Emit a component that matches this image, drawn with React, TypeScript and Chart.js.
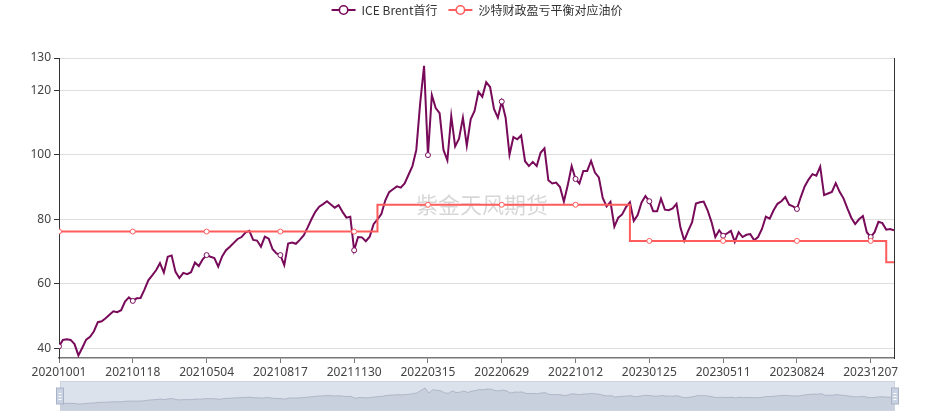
import React, { useEffect, useRef } from 'react';
import { Chart, registerables } from 'chart.js';

Chart.register(...registerables);

// ---------- data ----------
const tickDates = [
  '20201001', '20210118', '20210504', '20210817', '20211130', '20220315',
  '20220629', '20221012', '20230125', '20230511', '20230824', '20231207',
];
const TICK_EVERY = 76; // trading days between labelled dates
const SAMPLE_EVERY = 4; // trading days between the samples below
const LAST_INDEX = 860;

// ICE Brent front month, sampled every 4 trading days from 20201001
const brentFront = [
  40.6, 42.6, 42.8, 42.6, 41.3, 37.8, 40.2, 42.7, 43.6, 45.3,
  48.1, 48.4, 49.3, 50.4, 51.5, 51.2, 51.8, 54.5, 55.8, 54.7,
  55.5, 55.6, 58.2, 61.1, 62.6, 64.2, 66.4, 63.5, 68.4, 68.8,
  63.7, 61.8, 63.4, 63.0, 63.6, 66.6, 65.5, 67.6, 68.9, 68.4,
  68.0, 65.3, 68.5, 70.4, 71.5, 72.7, 73.9, 74.5, 75.9, 76.4,
  73.6, 73.4, 71.5, 74.6, 74.0, 70.7, 69.4, 68.9, 65.8, 72.5,
  72.8, 72.4, 73.6, 75.0, 77.4, 80.0, 82.3, 83.9, 84.7, 85.6,
  84.6, 83.6, 84.4, 82.3, 80.5, 80.8, 70.4, 74.5, 74.4, 73.2,
  74.6, 78.5, 80.0, 81.6, 85.8, 88.4, 89.3, 90.2, 89.8, 91.1,
  93.8, 96.5, 101.5, 116.0, 127.6, 99.9, 118.5, 114.5, 112.9, 101.5,
  98.3, 112.0, 102.6, 105.0, 111.5, 102.8, 111.0, 113.6, 119.5, 118.0,
  122.5, 121.0, 114.2, 111.5, 116.5, 111.5, 100.0, 105.5, 104.8, 106.0,
  98.0, 96.5, 97.8, 96.5, 100.6, 102.0, 92.1, 91.1, 91.4, 90.0,
  85.5, 90.6, 96.5, 92.5, 91.1, 95.0, 95.0, 98.1, 94.5, 93.0,
  86.6, 84.0, 85.4, 77.7, 80.5, 81.5, 83.8, 85.3, 79.5, 81.3,
  85.2, 87.2, 85.6, 82.5, 82.5, 86.4, 83.0, 82.8, 83.4, 84.8,
  77.5, 73.4, 76.4, 79.0, 84.9, 85.3, 85.5, 82.8, 79.2, 74.5,
  76.6, 74.9, 75.6, 76.4, 73.0, 76.0, 74.5, 75.2, 75.4, 73.5,
  74.5, 77.0, 80.8, 80.2, 82.8, 84.8, 85.6, 86.9, 84.5, 84.0,
  83.2, 86.9, 90.2, 92.3, 94.0, 93.5, 96.3, 87.5, 88.0, 88.5,
  91.2, 88.5, 86.5, 83.4, 80.5, 78.5, 80.0, 81.0, 76.0, 74.5,
  76.0, 79.2, 78.8, 76.8, 77.0, 76.6,
];

// Saudi fiscal breakeven oil price: level and the trading-day index it starts at
const breakevenLevels = [76.2, 84.5, 73.3, 66.7];
const breakevenFrom = [0, 328, 588, 852];

const yTicks = [40, 60, 80, 100, 120, 130];
const Y_MIN = 37;
const Y_MAX = 130;

const seriesNames = ['ICE Brent首行', '沙特财政盈亏平衡对应油价'];
const seriesColors = ['#780a5a', '#ff5c5c'];
const watermarkText = '紫金天风期货';

// ---------- derived ----------
const tickIdx = tickDates.map((_, i) => i * TICK_EVERY);
const brentPts = brentFront.map((v, i) => ({ x: i * SAMPLE_EVERY, y: v }));
const levelAt = (x: number) => {
  let v = breakevenLevels[0];
  breakevenFrom.forEach((s, k) => {
    if (x >= s) v = breakevenLevels[k];
  });
  return v;
};
const redX = Array.from(new Set([...tickIdx, ...breakevenFrom, LAST_INDEX])).sort((a, b) => a - b);
const redPts = redX.map((x) => ({ x, y: levelAt(x) }));

const markerRadius = (c: any) => (c.raw && c.raw.x % TICK_EVERY === 0 ? 2.5 : 0);

const tickFont = { family: '"Noto Sans", "Open Sans", sans-serif', size: 12 };

const legendPlugin = {
  id: 'topLegend',
  afterDraw(chart: any) {
    const ctx = chart.ctx;
    ctx.save();
    ctx.font = '12px "Noto Sans CJK SC", sans-serif';
    const iconW = 24;
    const gap = 6;
    const itemGap = 11;
    const widths = seriesNames.map((t) => ctx.measureText(t).width);
    const total = widths.reduce((a, w) => a + iconW + gap + w, 0) + itemGap * (seriesNames.length - 1);
    let x = chart.width / 2 - total / 2 + 2;
    const y = 10;
    seriesNames.forEach((t, i) => {
      ctx.strokeStyle = seriesColors[i];
      ctx.lineWidth = 2;
      ctx.beginPath();
      ctx.moveTo(x, y);
      ctx.lineTo(x + iconW, y);
      ctx.stroke();
      ctx.beginPath();
      ctx.arc(x + iconW / 2, y, 4.2, 0, Math.PI * 2);
      ctx.fillStyle = '#fff';
      ctx.fill();
      ctx.lineWidth = 1.6;
      ctx.stroke();
      ctx.fillStyle = '#333';
      ctx.textAlign = 'left';
      ctx.textBaseline = 'middle';
      ctx.fillText(t, x + iconW + gap, y + 0.5);
      x += iconW + gap + widths[i] + itemGap;
    });
    ctx.restore();
  },
};

const watermarkPlugin = {
  id: 'watermark',
  beforeDatasetsDraw(chart: any) {
    const ctx = chart.ctx;
    ctx.save();
    ctx.font = '22px "Noto Sans CJK SC", sans-serif';
    ctx.fillStyle = 'rgba(0,0,0,0.16)';
    ctx.textAlign = 'center';
    ctx.textBaseline = 'middle';
    ctx.fillText(watermarkText, 482, 205);
    ctx.restore();
  },
};

const sliderPlugin = {
  id: 'sliderDecor',
  beforeDatasetsDraw(chart: any) {
    const { ctx, chartArea: a } = chart;
    ctx.save();
    ctx.fillStyle = '#dce2ec';
    ctx.fillRect(a.left, a.top, a.right - a.left, a.bottom - a.top);
    ctx.restore();
  },
  afterDatasetsDraw(chart: any) {
    const { ctx, chartArea: a } = chart;
    ctx.save();
    ctx.strokeStyle = '#ccd4e2';
    ctx.lineWidth = 1;
    ctx.strokeRect(a.left + 0.5, a.top + 0.5, a.right - a.left - 1, a.bottom - a.top - 1);
    const cy = (a.top + a.bottom) / 2;
    [a.left, a.right].forEach((hx) => {
      ctx.fillStyle = '#c9d2e2';
      ctx.strokeStyle = '#a9b3c6';
      ctx.fillRect(hx - 3.5, cy - 8, 7, 16);
      ctx.strokeRect(hx - 3.5, cy - 8, 7, 16);
      ctx.strokeStyle = '#ffffff';
      ctx.lineWidth = 1;
      [-3, 0, 3].forEach((d) => {
        ctx.beginPath();
        ctx.moveTo(hx - 1.5, cy + d + 0.5);
        ctx.lineTo(hx + 1.5, cy + d + 0.5);
        ctx.stroke();
      });
    });
    ctx.restore();
  },
};

export default function App() {
  const mainRef = useRef<HTMLCanvasElement | null>(null);
  const sliderRef = useRef<HTMLCanvasElement | null>(null);

  useEffect(() => {
    if (!mainRef.current || !sliderRef.current) return;
    const main = new Chart(mainRef.current, {
      type: 'line',
      data: {
        datasets: [
          {
            label: seriesNames[0],
            data: brentPts,
            borderColor: seriesColors[0],
            borderWidth: 2,
            pointRadius: markerRadius,
            pointBackgroundColor: '#fff',
            pointBorderColor: seriesColors[0],
            pointBorderWidth: 1,
            tension: 0,
            order: 1,
          },
          {
            label: seriesNames[1],
            data: redPts,
            stepped: 'before',
            borderColor: seriesColors[1],
            borderWidth: 2,
            pointRadius: markerRadius,
            pointBackgroundColor: '#fff',
            pointBorderColor: seriesColors[1],
            pointBorderWidth: 1,
            order: 0,
          },
        ],
      },
      options: {
        responsive: false,
        animation: false,
        layout: { padding: { top: 58, left: 0, right: 0, bottom: 0 } },
        plugins: { legend: { display: false }, tooltip: { enabled: false } },
        scales: {
          x: {
            type: 'linear',
            min: 0,
            max: LAST_INDEX,
            afterBuildTicks: (s: any) => {
              s.ticks = tickIdx.map((v) => ({ value: v }));
            },
            afterFit: (s: any) => {
              s.height = 62;
            },
            ticks: {
              autoSkip: false,
              maxRotation: 0,
              minRotation: 0,
              padding: 2,
              color: '#444',
              font: tickFont,
              callback: (v: any) => tickDates[Math.round(Number(v) / TICK_EVERY)] ?? '',
            },
            grid: { drawOnChartArea: false, drawTicks: true, tickLength: 5, color: '#777' },
            border: { color: '#777', width: 1.5 },
          },
          y: {
            type: 'linear',
            position: 'left',
            min: Y_MIN,
            max: Y_MAX,
            afterBuildTicks: (s: any) => {
              s.ticks = yTicks.map((v) => ({ value: v }));
            },
            afterFit: (s: any) => {
              s.width = 59;
            },
            ticks: { padding: 3, color: '#444', font: tickFont },
            grid: { color: '#dedede', tickColor: '#333', tickLength: 5 },
            border: { color: '#333', width: 1 },
          },
          y2: {
            type: 'linear',
            position: 'right',
            min: Y_MIN,
            max: Y_MAX,
            afterFit: (s: any) => {
              s.width = 56;
            },
            ticks: { display: false },
            grid: { drawOnChartArea: false, drawTicks: false },
            border: { color: '#333', width: 1 },
          },
        },
      },
      plugins: [watermarkPlugin, legendPlugin],
    } as any);

    const slider = new Chart(sliderRef.current, {
      type: 'line',
      data: {
        datasets: [
          {
            data: brentPts,
            borderColor: 'rgba(160,170,188,0.9)',
            borderWidth: 0.8,
            backgroundColor: 'rgba(165,176,194,0.35)',
            fill: 'start',
            pointRadius: 0,
            tension: 0,
          },
        ],
      },
      options: {
        responsive: false,
        animation: false,
        layout: { padding: { left: 6, right: 6, top: 1, bottom: 1 } },
        plugins: { legend: { display: false }, tooltip: { enabled: false } },
        scales: {
          x: { type: 'linear', display: false, min: 0, max: LAST_INDEX },
          y: { type: 'linear', display: false, min: 0, max: 167 },
        },
      },
      plugins: [sliderPlugin],
    } as any);

    return () => {
      main.destroy();
      slider.destroy();
    };
  }, []);

  return (
    <div style={{ position: 'absolute', left: 0, top: 0, width: 950, height: 420, background: '#fff' }}>
      <canvas ref={mainRef} width={950} height={420} style={{ position: 'absolute', left: 0, top: 0 }} />
      <canvas ref={sliderRef} width={847} height={32} style={{ position: 'absolute', left: 54, top: 380 }} />
    </div>
  );
}
